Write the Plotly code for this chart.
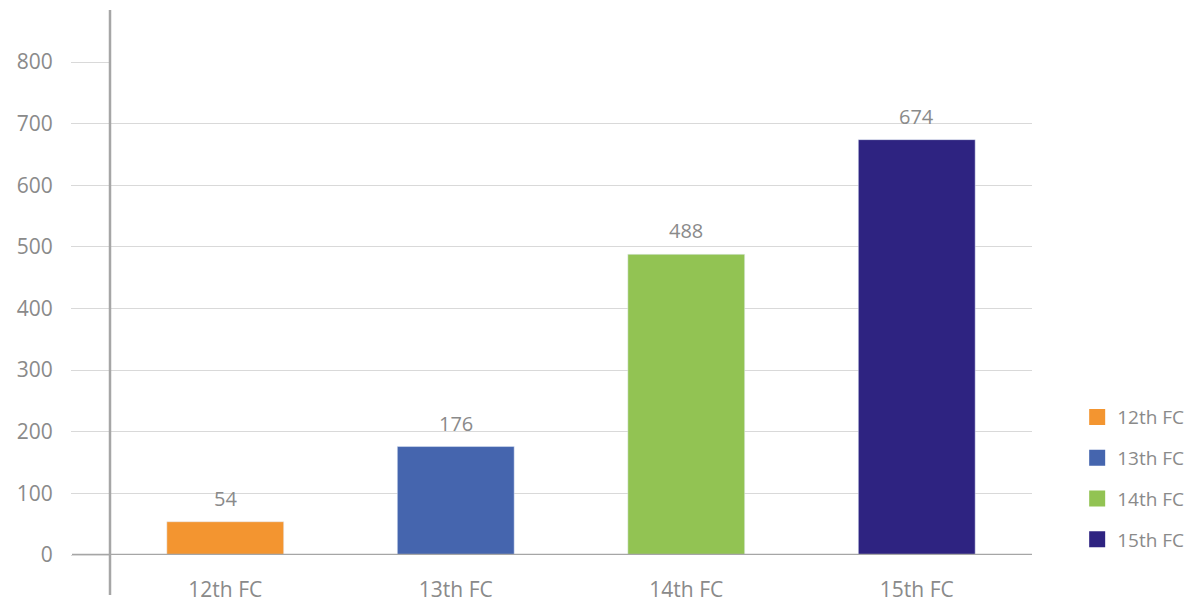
import plotly.graph_objects as go

categories = ["12th FC", "13th FC", "14th FC", "15th FC"]
values = [54, 176, 488, 674]
colors = ["#F39530", "#4565AE", "#92C353", "#2E2381"]
y_ticks = [0, 100, 200, 300, 400, 500, 600, 700, 800]

FONT = "Open Sans"
GRAY = "#8a8a8a"

fig = go.Figure()
for cat, val, col in zip(categories, values, colors):
    fig.add_trace(go.Bar(x=[cat], y=[val], marker_color=col, width=0.507,
                         showlegend=False, hoverinfo="x+y"))
    fig.add_annotation(x=cat, y=val, text=str(val), showarrow=False,
                       yanchor="bottom", yshift=8,
                       font=dict(family=FONT, size=20, color=GRAY))
for i, (cat, col) in enumerate(zip(categories, colors)):
    fig.add_trace(go.Scatter(x=[None], y=[None], mode="markers", name=cat,
                             marker=dict(symbol="square", size=20, color=col),
                             legendgroup=f"g{i}"))

fig.update_layout(
    width=1202, height=603,
    margin=dict(l=110, r=170, t=62, b=48, autoexpand=False),
    plot_bgcolor="white", paper_bgcolor="white",
    barmode="overlay",
    font=dict(family=FONT, color=GRAY),
    legend=dict(x=1.049, y=0.318, xanchor="left", yanchor="top",
                font=dict(family=FONT, size=19, color=GRAY),
                tracegroupgap=13, itemsizing="trace"),
    xaxis=dict(type="category", categoryorder="array", categoryarray=categories,
               range=[-0.5, 3.5], showgrid=False, showline=False, ticks="",
               zeroline=False, ticklabelstandoff=20, automargin=False,
               tickfont=dict(family=FONT, size=21, color=GRAY)),
    yaxis=dict(range=[0, 800], tickvals=y_ticks, showgrid=True,
               gridcolor="#d9d9d9", gridwidth=1, zeroline=False, showline=False,
               ticks="outside", ticklen=38, tickcolor="#d9d9d9", tickwidth=1,
               ticklabelstandoff=14, automargin=False,
               tickfont=dict(family=FONT, size=21, color=GRAY)),
    shapes=[
        dict(type="line", xref="paper", yref="paper", x0=0, x1=0,
             y0=-40 / 493, y1=545 / 493, line=dict(color="#a6a6a6", width=2.5),
             layer="above"),
        dict(type="line", xref="paper", yref="y", x0=-38 / 922, x1=1.0,
             y0=0, y1=0, line=dict(color="#a6a6a6", width=2.5), layer="above"),
    ],
)

fig.write_html("out.html")
